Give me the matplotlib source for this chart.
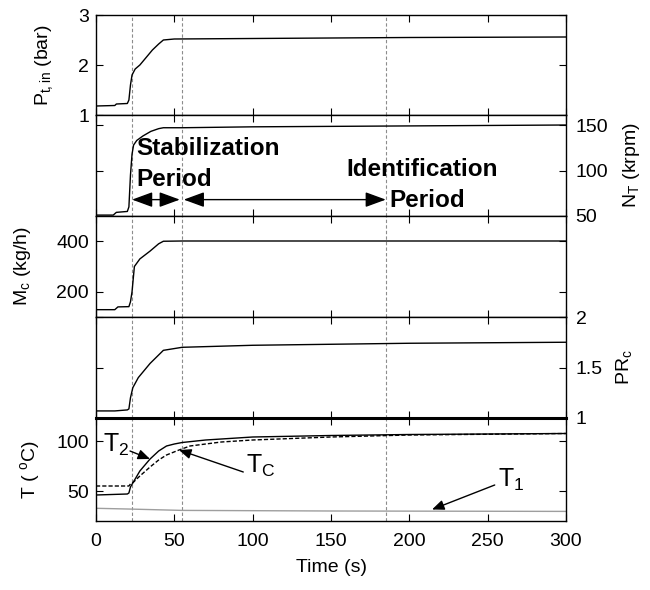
import numpy as np
import matplotlib
matplotlib.use('Agg')
import matplotlib.pyplot as plt
from matplotlib.patches import FancyArrowPatch

plt.rcParams['font.family'] = ['Liberation Sans', 'DejaVu Sans']
plt.rcParams['mathtext.fontset'] = 'custom'
plt.rcParams['mathtext.rm'] = 'Liberation Sans'
plt.rcParams['mathtext.it'] = 'Liberation Sans'
plt.rcParams['mathtext.bf'] = 'Liberation Sans:bold'

# ---------------------------------------------------------
# Data
# ---------------------------------------------------------
t_p = [0, 12, 13, 20, 21, 22, 23, 25, 28, 32, 36, 40, 43, 50, 100, 200, 300]
p_tin = [1.18, 1.19, 1.22, 1.23, 1.30, 1.60, 1.80, 1.92, 2.00, 2.15, 2.30, 2.42, 2.50, 2.52, 2.53, 2.55, 2.56]

t_n = [0, 11, 13, 20, 21, 22, 23, 24, 26, 30, 35, 40, 43, 55, 100, 200, 300]
n_t = [51, 51, 54, 55, 60, 95, 118, 128, 133, 138, 143, 146, 147, 147, 148, 149, 150]

t_m = [0, 12, 14, 21, 22, 23, 24.5, 28, 34.5, 40, 43, 55, 300]
m_c = [129, 129, 140, 141, 160, 200, 300, 330, 361, 390, 400, 401, 401]

t_pr = [0, 12, 20, 21, 22, 23.5, 27, 34.5, 43, 55, 100, 150, 200, 300]
pr_c = [1.07, 1.07, 1.08, 1.09, 1.20, 1.30, 1.40, 1.54, 1.67, 1.70, 1.72, 1.73, 1.74, 1.75]

t_t2 = [0, 20, 21, 22, 28, 34.5, 40, 45, 50, 55, 70, 100, 150, 200, 300]
temp_t2 = [46, 47, 48, 54, 70, 82, 90, 95, 97, 98.5, 101, 104, 105.5, 106.5, 107.5]
t_tc = [0, 21, 22, 24, 28, 34.5, 40, 45, 53, 60, 80, 100, 150, 200, 300]
temp_tc = [55, 55, 57, 59, 65, 74, 81, 86, 91, 95, 99, 101, 104, 106, 107.5]
t_t1 = [0, 20, 55, 150, 300]
temp_t1 = [32.7, 32, 30.6, 30, 29.6]

v_lines = [23, 55, 185]
x_ticks = [0, 50, 100, 150, 200, 250, 300]

# ---------------------------------------------------------
# Layout: 5 stacked panels
# ---------------------------------------------------------
fig = plt.figure(figsize=(6.5, 5.9), dpi=100)
L, W = 96 / 650, 470 / 650
tops = [15, 115, 216, 317, 418]
bots = [115, 216, 317, 418, 521]
axes = []
for tp, bt in zip(tops, bots):
    ax = fig.add_axes([L, 1 - bt / 590, W, (bt - tp) / 590])
    ax.set_xlim(0, 300)
    ax.set_xticks(x_ticks)
    ax.tick_params(direction='in', top=True, right=True, length=5,
                   labelsize=14, width=0.8)
    ax.tick_params(axis='x', labelbottom=False, pad=9)
    ax.tick_params(axis='y', pad=5)
    for s in ax.spines.values():
        s.set_linewidth(1.0)
    for v in v_lines:
        ax.axvline(v, color='0.55', lw=0.8, ls=(0, (3, 2)), zorder=1)
    axes.append(ax)

ax1, ax2, ax3, ax4, ax5 = axes

# Panel 1 : P_t,in
ax1.plot(t_p, p_tin, color='k', lw=1)
ax1.set_ylim(1, 3)
ax1.set_yticks([1, 2, 3])
ax1.set_ylabel('P$_{t,in}$ (bar)', fontsize=14)
ax1.yaxis.set_label_coords(-0.087, 0.5)

# Panel 2 : N_T
ax2.plot(t_n, n_t, color='k', lw=1)
ax2.set_ylim(50, 161)
ax2.set_yticks([50, 100, 150])
ax2.tick_params(axis='y', labelleft=False, labelright=True, pad=7)
ax2.yaxis.set_label_position('right')
ax2.set_ylabel('N$_T$ (krpm)', fontsize=14)
ax2.yaxis.set_label_coords(1.117, 0.5)

ax2.text(26, 117, 'Stabilization', fontsize=17.5, fontweight='bold')
ax2.text(26, 83, 'Period', fontsize=17.5, fontweight='bold')
ax2.text(160, 94.5, 'Identification', fontsize=17.5, fontweight='bold')
ax2.text(187.5, 60, 'Period', fontsize=17.5, fontweight='bold')

astyle = '<|-|>,head_length=0.9,head_width=0.33'
for x0, x1 in [(23, 53.5), (56, 185)]:
    ax2.add_patch(FancyArrowPatch((x0, 68), (x1, 68), arrowstyle=astyle,
                                  mutation_scale=14, color='k', lw=1,
                                  shrinkA=0, shrinkB=0))

# Panel 3 : M_c
ax3.plot(t_m, m_c, color='k', lw=1)
ax3.set_ylim(100, 500)
ax3.set_yticks([200, 400])
ax3.set_ylabel('M$_c$ (kg/h)', fontsize=14)
ax3.yaxis.set_label_coords(-0.134, 0.5)

# Panel 4 : PR_c
ax4.plot(t_pr, pr_c, color='k', lw=1)
ax4.set_ylim(1, 2)
ax4.set_yticks([1, 1.5, 2])
ax4.set_yticklabels(['1', '1.5', '2'])
ax4.tick_params(axis='y', labelleft=False, labelright=True, pad=7)
ax4.yaxis.set_label_position('right')
ax4.set_ylabel('PR$_c$', fontsize=14)
ax4.yaxis.set_label_coords(1.102, 0.5)

# Panel 5 : temperatures
ax5.plot(t_t2, temp_t2, color='k', lw=1)
ax5.plot(t_tc, temp_tc, color='k', lw=1, ls=(0, (3, 1.5)))
ax5.plot(t_t1, temp_t1, color='0.62', lw=1)
ax5.set_ylim(20, 123)
ax5.set_yticks([50, 100])
ax5.tick_params(axis='x', labelbottom=True)
ax5.spines['top'].set_linewidth(2.2)
ax5.set_ylabel('T ( $^o$C)', fontsize=14)
ax5.yaxis.set_label_coords(-0.115, 0.5)
ax5.set_xlabel('Time (s)', fontsize=14, labelpad=6)

tstyle = '-|>,head_length=0.6,head_width=0.25'
ax5.text(4.5, 89, 'T$_2$', fontsize=18)
ax5.annotate('', xy=(34.5, 82), xytext=(21.7, 90),
             arrowprops=dict(arrowstyle=tstyle, color='k', lw=1,
                             mutation_scale=12, shrinkA=0, shrinkB=0))
ax5.text(95.5, 68.4, 'T$_C$', fontsize=18)
ax5.annotate('', xy=(53, 91), xytext=(94, 69),
             arrowprops=dict(arrowstyle=tstyle, color='k', lw=1,
                             mutation_scale=12, shrinkA=0, shrinkB=0))
ax5.text(256.5, 54, 'T$_1$', fontsize=18)
ax5.annotate('', xy=(214.5, 31.5), xytext=(254.5, 56),
             arrowprops=dict(arrowstyle=tstyle, color='k', lw=1,
                             mutation_scale=12, shrinkA=0, shrinkB=0))

plt.savefig('out.png', dpi=100)
plt.close()
